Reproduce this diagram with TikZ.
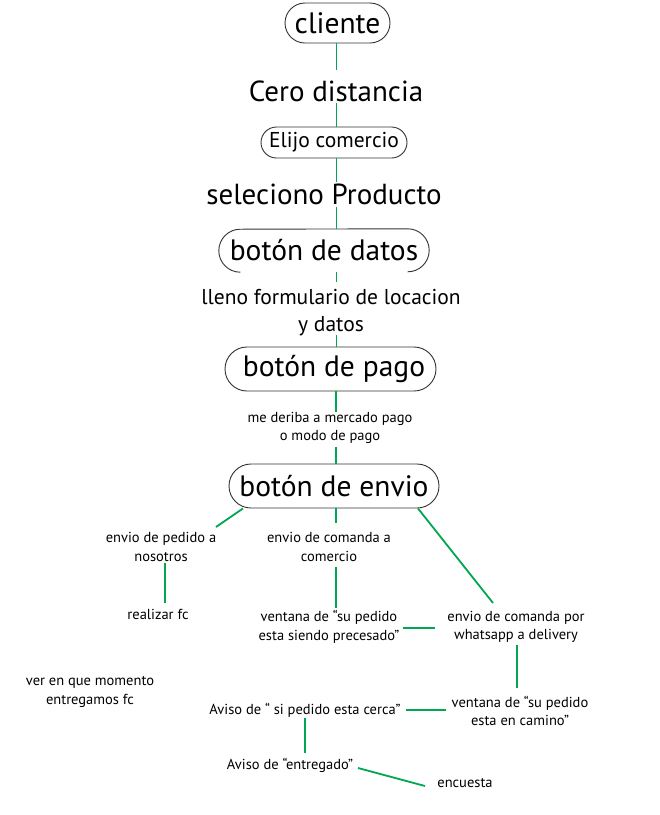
\documentclass[tikz,border=0pt]{standalone}
\usepackage{fontspec}
\setmainfont{PT Sans}
\usetikzlibrary{calc}
\definecolor{lg}{RGB}{0,166,81}
\begin{document}
\begin{tikzpicture}[x=1pt,y=1pt,
  con/.style={draw=lg, line width=1.8pt},
  boxline/.style={draw=black!80, line width=0.9pt},
  pill/.style={boxline, rounded corners=#1, inner sep=0pt},
  big/.style={font=\fontsize{29.5}{33}\selectfont, inner sep=0pt},
  mid/.style={font=\fontsize{29}{33}\selectfont, inner sep=0pt},
  med/.style={font=\fontsize{21.5}{27}\selectfont, inner sep=0pt, align=center},
  sm/.style={font=\fontsize{14.5}{18.5}\selectfont, inner sep=0pt, align=center}]
\useasboundingbox (0,0) rectangle (660,-815);
\fill[white] (0,0) rectangle (660,-815);

\node[pill=20pt, big, minimum width=105pt, minimum height=40pt] (cliente) at (337.5,-23) {cliente\hspace{7pt}};
\node[mid] (cero) at (336,-91) {Cero distancia};
\node[pill=15.5pt, med, minimum width=146pt, minimum height=31pt] (elijo) at (334,-142.5) {Elijo comercio};
\node[mid] (sel) at (324,-194) {seleciono Producto};
\node[big, minimum width=210pt, minimum height=43pt] (datos) at (324,-250.5) {botón de datos};
\draw[boxline] ($(datos.south west)+(21.5,0)$) arc[start angle=270,end angle=90,radius=21.5pt]
  -- ($(datos.north east)+(-21.5,0)$) arc[start angle=90,end angle=-90,radius=21.5pt];
\node[med] (lleno) at (331,-313) {lleno formulario de locacion\\y datos};
\node[pill=22pt, big, minimum width=211pt, minimum height=44pt] (pago) at (330.5,-369) {\hspace{7pt}botón de pago};
\node[sm] (deriba) at (330,-428) {me deriba a mercado pago\\o modo de pago};
\node[pill=22pt, big, minimum width=210pt, minimum height=44pt] (envio) at (334,-486) {botón de envio};
\node[sm] (pedido) at (161,-547) {envio de pedido a\\nosotros};
\node[sm] (comercio) at (329,-547) {envio de comanda a\\comercio};
\node[sm] (fc) at (158,-614) {realizar fc};
\node[sm] (proc) at (329,-627) {ventana de “su pedido\\esta siendo precesado”};
\node[sm] (whats) at (516,-627) {envio de comanda por\\whatsapp a delivery};
\node[sm] (camino) at (520,-711) {ventana de “su pedido\\esta en camino”};
\node[sm] (cerca) at (305,-710) {Aviso de “ si pedido esta cerca”};
\node[sm] (entregado) at (290,-765) {Aviso de “entregado”};
\node[sm] (encuesta) at (465,-783) {encuesta};
\node[sm] (vermom) at (90,-692) {ver en que momento\\entregamos fc};

\draw[con] ($(cliente.south)+(-1,0)$) -- ($(cero)+(0.5,21)$);
\draw[con] ($(cero)+(0.5,-12)$) -- ($(elijo.north)+(2.5,0)$);
\draw[con] ($(elijo.south)+(2.5,0)$) -- ($(sel)+(12.5,12)$);
\draw[con] ($(sel)+(12.5,-13)$) -- ($(datos.north)+(12.5,0)$);
\draw[con] ($(datos.south)+(12.5,0)$) -- ($(lleno)+(5.5,31)$);
\draw[con] ($(lleno)+(5.5,-22)$) -- ($(pago.north)+(6,0)$);
\draw[con] ($(pago.south)+(5.5,0)$) -- ($(deriba)+(6,16)$);
\draw[con] ($(deriba)+(6,-19)$) -- ($(envio.north)+(2,0)$);
\draw[con] ($(envio.south)+(-91,0)$) -- ($(pedido)+(55,20)$);
\draw[con] ($(envio.south)+(2,0)$) -- ($(comercio)+(7,24)$);
\draw[con] ($(envio.south)+(84,0)$) -- ($(whats)+(-23,24)$);
\draw[con] ($(pedido)+(4,-16)$) -- ($(fc)+(7,11)$);
\draw[con] ($(comercio)+(7,-20)$) -- ($(proc)+(7,19)$);
\draw[con] ($(proc)+(74,-1)$) -- ($(whats)+(-81,-1)$);
\draw[con] ($(whats)+(1,-18)$) -- ($(camino)+(-3,23)$);
\draw[con] ($(camino)+(-74,1)$) -- ($(cerca)+(101,0)$);
\draw[con] ($(cerca)+(0,-8)$) -- ($(entregado)+(15,12)$);
\draw[con] ($(entregado)+(68,-3)$) -- ($(encuesta)+(-40,-3)$);
\end{tikzpicture}
\end{document}
